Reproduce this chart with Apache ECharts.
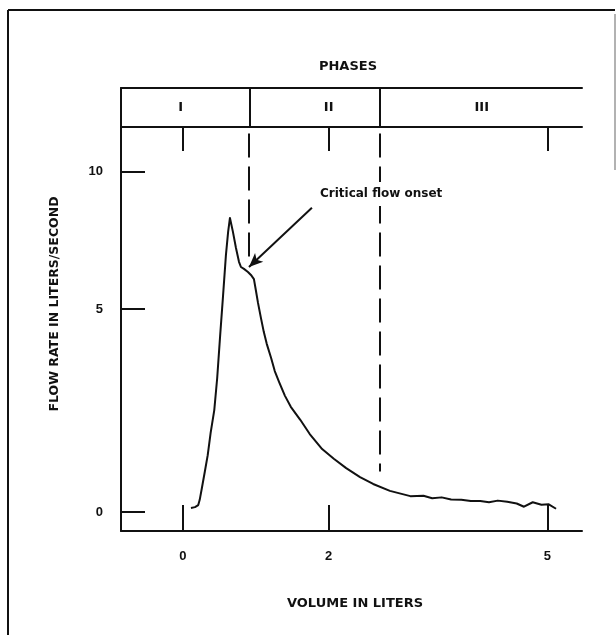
<!DOCTYPE html>
<html>
<head>
<meta charset="utf-8">
<script src="https://cdn.jsdelivr.net/npm/echarts@6/dist/echarts.min.js"></script>
<style>
  html, body { margin: 0; padding: 0; background: #ffffff; }
  #chart { width: 616px; height: 635px; }
</style>
</head>
<body>
<div id="chart"></div>
<script>
// ---- data ----
const volume = [0.11, 0.165, 0.21, 0.23, 0.26, 0.30, 0.34, 0.38, 0.43, 0.47, 0.51, 0.55, 0.59, 0.62, 0.645,
  0.686, 0.727, 0.769, 0.796, 0.837, 0.892, 0.933, 0.974, 1.0, 1.03, 1.07, 1.11, 1.15, 1.21, 1.26, 1.32,
  1.40, 1.48, 1.61, 1.74, 1.91, 2.07, 2.24, 2.43, 2.61, 2.84, 3.12, 3.30, 3.42, 3.55, 3.68, 3.82, 3.95,
  4.08, 4.20, 4.32, 4.45, 4.58, 4.68, 4.80, 4.92, 5.02, 5.12];
const flow = [0.10, 0.12, 0.17, 0.30, 0.59, 0.99, 1.40, 1.95, 2.51, 3.30, 4.33, 5.47, 6.97, 7.81, 8.32,
  7.81, 7.23, 6.72, 6.53, 6.46, 6.35, 6.24, 6.09, 5.69, 5.22, 4.78, 4.43, 4.14, 3.79, 3.47, 3.20,
  2.86, 2.59, 2.27, 1.92, 1.55, 1.31, 1.08, 0.86, 0.69, 0.52, 0.39, 0.40, 0.34, 0.36, 0.31, 0.30, 0.27,
  0.27, 0.24, 0.28, 0.25, 0.21, 0.13, 0.24, 0.18, 0.19, 0.08];

const xTicks = [0, 2, 5];
const yTicks = [0, 5, 10];
const phaseLabels = ['I', 'II', 'III'];
const phaseLabelAt = [-0.03, 2.0, 4.1];
const phaseBounds = [0.906, 2.70];
const boundaryTop = 11.4;
const boundaryEnds = [6.75, 1.0];
const annotationText = 'Critical flow onset';
const annotationAt = [2.72, 9.19];
const arrowFrom = [1.77, 8.69];
const arrowTo = [0.906, 6.53];

// the printed flow axis is compressed above 5 L/s
const upperScale = 0.675;
function warp(v) { return v <= 5 ? v : 5 + (v - 5) * upperScale; }
const yTickPos = yTicks.map(warp);

const INK = '#111111';
const numFont = { fontFamily: 'Liberation Sans', fontWeight: 'bold', fontSize: 13, color: INK };

const chart = echarts.init(document.getElementById('chart'), null, { renderer: 'canvas' });

const option = {
  animation: false,
  backgroundColor: '#ffffff',
  grid: [
    { left: 121, right: 34, top: 127, bottom: 104 },
    { left: 121, right: 34, top: 88, height: 39 }
  ],
  xAxis: [
    {
      gridIndex: 0, type: 'value', position: 'bottom', min: -0.85, max: 5.476,
      axisLine: { show: true, onZero: false, lineStyle: { color: INK, width: 2 } },
      axisTick: { show: true, inside: true, length: 26, customValues: xTicks, lineStyle: { color: INK, width: 2 } },
      axisLabel: { show: true, customValues: xTicks, margin: 19, ...numFont },
      splitLine: { show: false }
    },
    {
      gridIndex: 0, type: 'value', position: 'top', min: -0.85, max: 5.476,
      axisLine: { show: true, onZero: false, lineStyle: { color: INK, width: 2 } },
      axisTick: { show: true, inside: true, length: 24, customValues: xTicks, lineStyle: { color: INK, width: 2 } },
      axisLabel: { show: false },
      splitLine: { show: false }
    },
    {
      gridIndex: 1, type: 'value', position: 'top', min: -0.85, max: 5.476,
      axisLine: { show: true, onZero: false, lineStyle: { color: INK, width: 2 } },
      axisTick: { show: false }, axisLabel: { show: false }, splitLine: { show: false }
    }
  ],
  yAxis: [
    {
      gridIndex: 0, type: 'value', min: -0.468, max: 9.48,
      axisLine: { show: true, onZero: false, lineStyle: { color: INK, width: 2 } },
      axisTick: { show: true, inside: true, length: 24, customValues: yTickPos, lineStyle: { color: INK, width: 2 } },
      axisLabel: {
        show: true, customValues: yTickPos, margin: 18, ...numFont,
        formatter: function (val) {
          const i = yTickPos.findIndex(p => Math.abs(p - val) < 1e-6);
          return i >= 0 ? String(yTicks[i]) : '';
        }
      },
      splitLine: { show: false }
    },
    {
      gridIndex: 1, type: 'value', min: 0, max: 1,
      axisLine: { show: true, onZero: false, lineStyle: { color: INK, width: 2 } },
      axisTick: { show: false }, axisLabel: { show: false }, splitLine: { show: false }
    }
  ],
  series: [
    {
      name: 'Flow',
      type: 'line',
      xAxisIndex: 0, yAxisIndex: 0,
      z: 2,
      data: volume.map((v, i) => [v, warp(flow[i])]),
      showSymbol: false,
      smooth: false,
      lineStyle: { color: INK, width: 2, join: 'round' },
      markLine: {
        silent: true,
        symbol: ['none', 'none'],
        label: { show: false },
        data: [
          [
            { coord: [phaseBounds[0], warp(boundaryTop)], symbol: 'none', lineStyle: { color: INK, width: 2, type: [24, 9] } },
            { coord: [phaseBounds[0], warp(boundaryEnds[0])], symbol: 'none' }
          ],
          [
            { coord: [phaseBounds[1], warp(boundaryTop)], symbol: 'none', lineStyle: { color: INK, width: 2, type: [24, 9] } },
            { coord: [phaseBounds[1], warp(boundaryEnds[1])], symbol: 'none' }
          ],
          [
            { coord: [arrowFrom[0], warp(arrowFrom[1])], symbol: 'none', lineStyle: { color: INK, width: 2, type: 'solid' } },
            { coord: [arrowTo[0], warp(arrowTo[1])], symbol: 'arrow', symbolSize: [9, 14] }
          ]
        ]
      }
    },
    {
      name: 'Annotation',
      type: 'scatter',
      xAxisIndex: 0, yAxisIndex: 0,
      z: 20,
      silent: true,
      data: [[annotationAt[0], warp(annotationAt[1])]],
      symbolSize: 0,
      itemStyle: { opacity: 1, color: INK },
      label: {
        show: true, position: 'inside',
        fontFamily: 'DejaVu Sans', fontWeight: 'bold', fontSize: 12, color: INK,
        backgroundColor: '#ffffff', padding: [6, 3, 6, 3],
        formatter: () => annotationText
      }
    },
    {
      name: 'Phases',
      type: 'scatter',
      xAxisIndex: 2, yAxisIndex: 1,
      data: phaseLabelAt.map(p => [p, 0.5]),
      symbolSize: 0,
      itemStyle: { opacity: 1, color: INK },
      label: {
        show: true, position: 'inside',
        fontFamily: 'DejaVu Sans', fontWeight: 'bold', fontSize: 13, color: INK,
        formatter: p => phaseLabels[p.dataIndex]
      },
      markLine: {
        silent: true,
        symbol: ['none', 'none'],
        label: { show: false },
        lineStyle: { color: INK, width: 2, type: 'solid' },
        data: phaseBounds.map(b => ({ xAxis: b }))
      }
    }
  ],
  graphic: [
    { type: 'line', shape: { x1: 8, y1: 10, x2: 615, y2: 10 }, style: { stroke: INK, lineWidth: 2 } },
    { type: 'line', shape: { x1: 8, y1: 10, x2: 8, y2: 640 }, style: { stroke: INK, lineWidth: 2 } },
    { type: 'line', shape: { x1: 615, y1: 14, x2: 615, y2: 170 }, style: { stroke: '#999999', lineWidth: 1.5 } },
    {
      type: 'text', x: 348, y: 67,
      style: { text: 'PHASES', fontFamily: 'DejaVu Sans', fontWeight: 'bold', fontSize: 13, fill: INK, textAlign: 'center', textVerticalAlign: 'middle' }
    },
    {
      type: 'text', x: 355, y: 604,
      style: { text: 'VOLUME IN LITERS', fontFamily: 'DejaVu Sans', fontWeight: 'bold', fontSize: 13, fill: INK, textAlign: 'center', textVerticalAlign: 'middle' }
    },
    {
      type: 'text', x: 55, y: 304, rotation: Math.PI / 2,
      style: { text: 'FLOW RATE IN LITERS/SECOND', fontFamily: 'DejaVu Sans', fontWeight: 'bold', fontSize: 12.5, fill: INK, textAlign: 'center', textVerticalAlign: 'middle' }
    }
  ]
};
chart.setOption(option);
</script>
</body>
</html>
